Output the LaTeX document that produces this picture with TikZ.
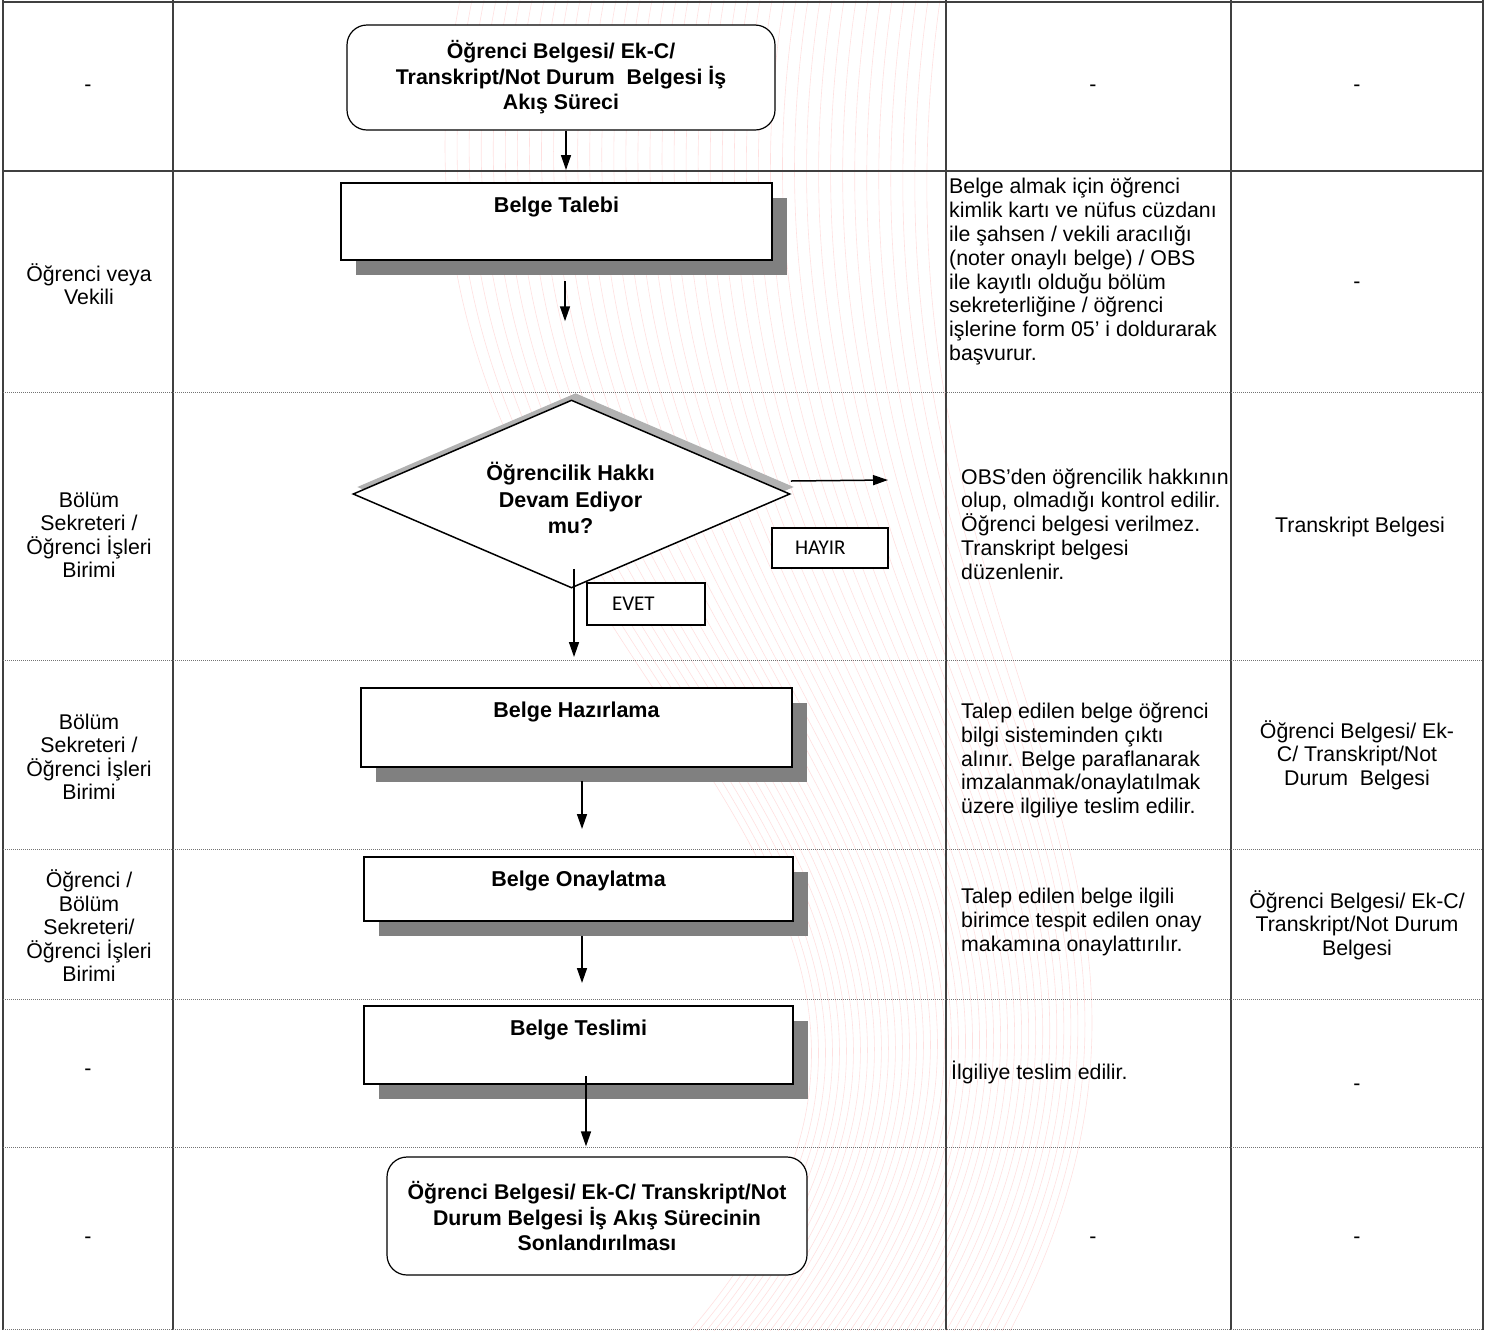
\documentclass[tikz,border=0pt]{standalone}
\usepackage{fontspec}
\setmainfont{Liberation Sans}
\newfontfamily\calfont{Carlito}
\usetikzlibrary{positioning, shapes.geometric, shadows, arrows.meta}
\tikzset{>={Triangle[length=15pt,width=10pt]},
  cell/.style={inner sep=0pt, align=center, font=\fontsize{21.3}{23.5}\selectfont},
  celltext/.style={inner sep=0pt, align=left, anchor=west, font=\fontsize{21.3}{23.8}\selectfont},
  termbox/.style={draw, line width=1.2pt, rounded corners=20pt, fill=white, align=center, font=\bfseries\fontsize{21.3}{25.5}\selectfont},
  procbox/.style={draw, line width=2pt, fill=white, drop shadow={shadow xshift=15pt, shadow yshift=-15pt, fill=black!50, opacity=1}},
  decision/.style={diamond, draw, line width=1.5pt, fill=white, aspect=2.32, inner sep=0pt, minimum width=437pt, minimum height=188pt, drop shadow={shadow xshift=4pt, shadow yshift=7pt, fill=black!30, opacity=1}},
  boxtext/.style={inner sep=0pt, align=center, font=\bfseries\fontsize{21.5}{26.5}\selectfont},
  answer/.style={draw, line width=1.5pt, fill=white, align=left, font=\calfont\fontsize{21}{24}\selectfont},
  flow/.style={->, line width=1.5pt},
  solidline/.style={line width=1.5pt, black!75},
  dotline/.style={line width=1pt, black!55, dash pattern=on 1pt off 1pt}
}

\begin{document}
\begin{tikzpicture}[x=1pt, y=-1pt]
\useasboundingbox (0,0) rectangle (1487,1331);
\fill[white] (0,0) rectangle (1487,1331);
\foreach \i in {0,...,40}
  \draw[red!60, opacity=0.2, line width=0.6pt] (460+12*\i,0) .. controls (330+13*\i,650) and (1100+4*\i,850) .. (690+8*\i,1331);
\foreach \x in {3,173,946,1231,1483}
  \draw[solidline] (\x,0) -- (\x,1330);
\draw[solidline] (3,2) -- (1483,2) (3,171) -- (1483,171);
\foreach \y in {392,660,849,999,1147,1329}
  \draw[dotline] (3,\y) -- (1483,\y);

\node[cell] (rol1) at (88,88) {-};
\node[cell] (rol2) at (89,284) {Öğrenci veya\\Vekili};
\node[cell] (rol3) at (89,535) {Bölüm\\Sekreteri /\\Öğrenci İşleri\\Birimi};
\node[cell] (rol4) at (89,757) {Bölüm\\Sekreteri /\\Öğrenci İşleri\\Birimi};
\node[cell] (rol5) at (89,926) {Öğrenci /\\Bölüm\\Sekreteri/\\Öğrenci İşleri\\Birimi};
\node[cell] (rol6) at (88,1072) {-};
\node[cell] (rol7) at (88,1240) {-};

\node[termbox, minimum width=428pt, minimum height=105pt] (bas) at (561,77.5) {Öğrenci Belgesi/ Ek-C/\\Transkript/Not Durum~~Belgesi İş\\Akış Süreci};
\node[procbox, minimum width=431pt, minimum height=77pt] (talep) at (556.5,221.5) {};
\node[boxtext, below=15pt of talep.north] (talepyazi) {Belge Talebi};
\node[decision] (karar) at (571.5,494) {};
\node[boxtext, xshift=-1pt, yshift=-4pt] (kararyazi) at (karar.center) {Öğrencilik Hakkı\\Devam Ediyor\\mu?};
\coordinate (hayiruc) at (888,480);
\node[answer, inner xsep=23pt, text width=70pt, minimum height=40pt] (hayir) at (830,548) {HAYIR};
\node[answer, inner xsep=25pt, text width=68pt, minimum height=42pt] (evet) at (646,604) {EVET};
\node[procbox, minimum width=431pt, minimum height=79pt] (hazir) at (576.5,727.5) {};
\node[boxtext, below=15pt of hazir.north] (haziryazi) {Belge Hazırlama};
\node[procbox, minimum width=429pt, minimum height=64pt] (onay) at (578.5,889) {};
\node[boxtext, below=15pt of onay.north] (onayyazi) {Belge Onaylatma};
\node[procbox, minimum width=429pt, minimum height=78pt] (teslim) at (578.5,1045) {};
\node[boxtext, below=15pt of teslim.north] (teslimyazi) {Belge Teslimi};
\node[termbox, minimum width=420pt, minimum height=118pt] (son) at (597,1216) {Öğrenci Belgesi/ Ek-C/ Transkript/Not\\Durum Belgesi İş Akış Sürecinin\\Sonlandırılması};

\draw[flow, shorten >=12pt] ([xshift=5pt]bas.south) -- ([xshift=9.5pt]talep.north);
\draw[flow, shorten <=20pt, shorten >=78pt] ([xshift=8.5pt]talep.south) -- ([xshift=-6.5pt]karar.north);
\draw[flow, shorten <=-20pt, shorten >=30pt] ([xshift=2.5pt]karar.south) -- ([xshift=-2.5pt]hazir.north);
\draw[flow] ([yshift=13pt]karar.east) -- (hayiruc);
\draw[flow, shorten <=13pt, shorten >=27pt] ([xshift=5.5pt]hazir.south) -- ([xshift=3.5pt]onay.north);
\draw[flow, shorten <=14pt, shorten >=22pt] ([xshift=3.5pt]onay.south) -- ([xshift=3.5pt]teslim.north);
\draw[flow, shorten <=-9pt, shorten >=10pt] ([xshift=7.5pt]teslim.south) -- ([xshift=-11pt]son.north);

\node[cell] (acik1) at (1093,88) {-};
\node[celltext] (acik2) at (949,271.5) {Belge almak için öğrenci\\kimlik kartı ve nüfus cüzdanı\\ile şahsen / vekili aracılığı\\(noter onaylı belge) / OBS\\ile kayıtlı olduğu bölüm\\sekreterliğine / öğrenci\\işlerine form 05’ i doldurarak\\başvurur.};
\node[celltext] (acik3) at (961,524) {OBS’den öğrencilik hakkının\\olup, olmadığı kontrol edilir.\\Öğrenci belgesi verilmez.\\Transkript belgesi\\düzenlenir.};
\node[celltext] (acik4) at (961,760.5) {Talep edilen belge öğrenci\\bilgi sisteminden çıktı\\alınır. Belge paraflanarak\\imzalanmak/onaylatılmak\\üzere ilgiliye teslim edilir.};
\node[celltext] (acik5) at (961,922) {Talep edilen belge ilgili\\birimce tespit edilen onay\\makamına onaylattırılır.};
\node[celltext] (acik6) at (951,1072) {İlgiliye teslim edilir.};
\node[cell] (acik7) at (1093,1240) {-};

\node[cell] (cikti1) at (1357,88) {-};
\node[cell] (cikti2) at (1357,285) {-};
\node[cell] (cikti3) at (1360,527) {Transkript Belgesi};
\node[cell] (cikti4) at (1357,755) {Öğrenci Belgesi/ Ek-\\C/ Transkript/Not\\Durum~~Belgesi};
\node[cell] (cikti5) at (1357,925) {Öğrenci Belgesi/ Ek-C/\\Transkript/Not Durum\\Belgesi};
\node[cell] (cikti6) at (1357,1087) {-};
\node[cell] (cikti7) at (1357,1240) {-};
\end{tikzpicture}
\end{document}
